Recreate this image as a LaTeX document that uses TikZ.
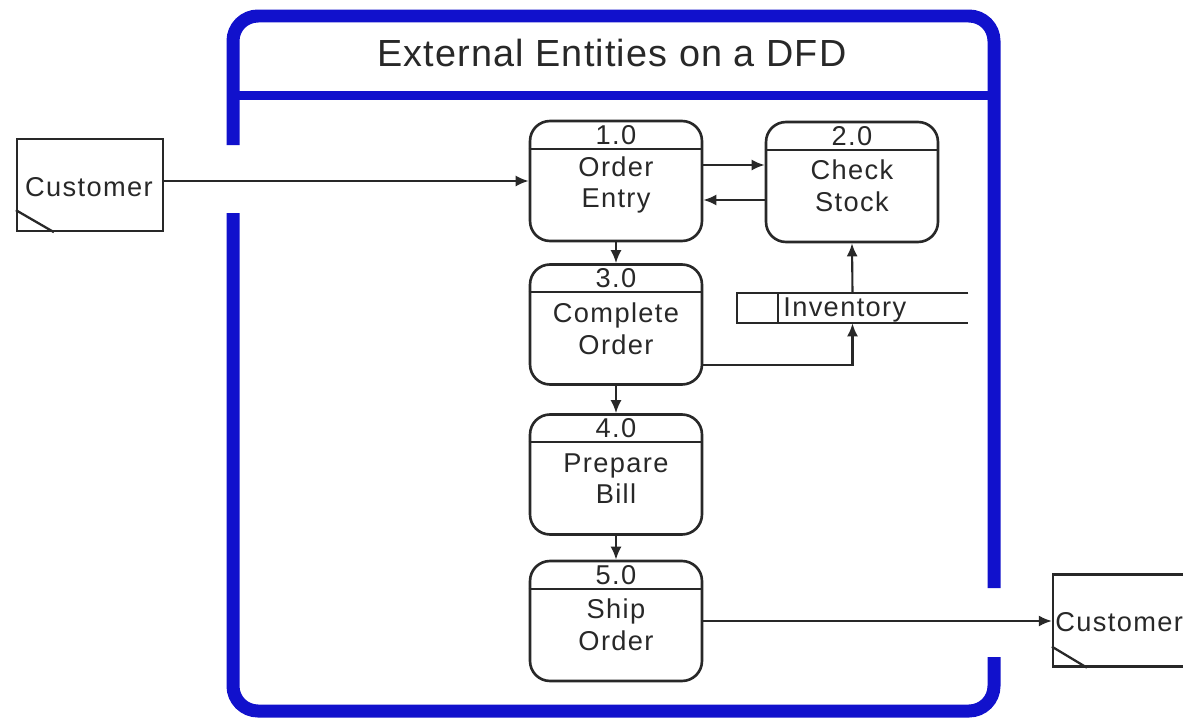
\documentclass[tikz,border=0pt]{standalone}
\usepackage{fontspec}
\setmainfont{Liberation Sans}
\usetikzlibrary{arrows.meta}
\definecolor{frameblue}{RGB}{17,17,204}
\definecolor{ink}{RGB}{40,40,40}
\tikzset{
  proc/.style={draw=ink, line width=1.5pt, rounded corners=0.4cm, minimum width=3.44cm, minimum height=2.4cm, inner sep=0pt},
  pline/.style={draw=ink, line width=1.3pt},
  ptext/.style={text=ink, font=\fontsize{15.5}{18}\selectfont\addfontfeature{LetterSpace=5}, align=center, inner sep=0pt},
  ent/.style={draw=ink, line width=1.3pt, minimum width=2.92cm, minimum height=1.84cm, inner sep=0pt},
  flow/.style={draw=ink, line width=1.2pt, -{Latex[length=0.26cm,width=0.22cm]}},
  frame/.style={draw=frameblue, line width=0.26cm, rounded corners=0.5cm},
}
\begin{document}
\begin{tikzpicture}[x=0.02cm,y=-0.02cm]
\clip (0,0) rectangle (1183,720);
\fill[white] (0,0) rectangle (1183,720);
% blue frame
\draw[frame] (233,145) -- (233,16) -- (994,16) -- (994,588);
\draw[frame] (233,213) -- (233,711) -- (994,711) -- (994,657);
\draw[draw=frameblue, line width=0.18cm] (233,95) -- (994,95);
\node[text=ink, font=\fontsize{21.5}{26}\selectfont\addfontfeature{LetterSpace=3}, inner sep=0pt] (title) at (612,53) {External Entities on a DFD};
% processes
\node[proc] (p1) at (616,181) {};
\node[proc] (p2) at (852,182) {};
\node[proc] (p3) at (616,324.5) {};
\node[proc] (p4) at (616,474.5) {};
\node[proc] (p5) at (616,621) {};
\foreach \p/\n/\t in {p1/1.0/Order\\Entry, p2/2.0/Check\\Stock, p3/3.0/Complete\\Order, p4/4.0/Prepare\\Bill, p5/5.0/Ship\\Order}{
  \draw[pline] ([yshift=-0.58cm]\p.north west) -- ([yshift=-0.58cm]\p.north east);
  \node[ptext] (\p n) at ([yshift=-0.3cm]\p.north) {\n};
  \node[ptext] (\p t) at ([yshift=-0.08cm]\p.center) {\t};
}
% data store
\node[minimum width=4.62cm, minimum height=0.6cm, inner sep=0pt] (inv) at (852.5,308) {};
\draw[pline] (inv.north east) -- (inv.north west) -- (inv.south west) -- (inv.south east);
\draw[pline] ([xshift=0.82cm]inv.north west) -- ([xshift=0.82cm]inv.south west);
\node[ptext, anchor=west] (invt) at (783,310) {Inventory};
% external entities
\node[ent] (c1) at (90,185) {};
\node[ptext] (c1t) at (89,187) {Customer};
\draw[pline] ([yshift=0.44cm]c1.south west) -- ([xshift=0.76cm]c1.south west);
\node[ent] (c2) at (1126,620.5) {};
\node[ptext, anchor=west] (c2t) at (1055,622) {Customer};
\draw[pline] ([yshift=0.42cm]c2.south west) -- ([xshift=0.7cm]c2.south west);
% flows
\draw[flow] (p1.west -| c1.east) -- (p1.west);
\draw[flow] ([yshift=0.32cm]p1.east) -- ([yshift=0.32cm]p1.east -| p2.west);
\draw[flow] ([yshift=-0.36cm]p2.west) -- ([yshift=-0.36cm]p2.west -| p1.east);
\draw[flow] (p1.south) -- (p3.north);
\draw[flow] (p3.south) -- (p4.north);
\draw[flow] (p4.south) -- (p5.north);
\draw[flow] ([yshift=-0.81cm]p3.east) -| (inv.south);
\draw[flow] (inv.north) -- (p2.south);
\draw[flow] (p5.east) -- (p5.east -| c2.west);
\end{tikzpicture}
\end{document}
